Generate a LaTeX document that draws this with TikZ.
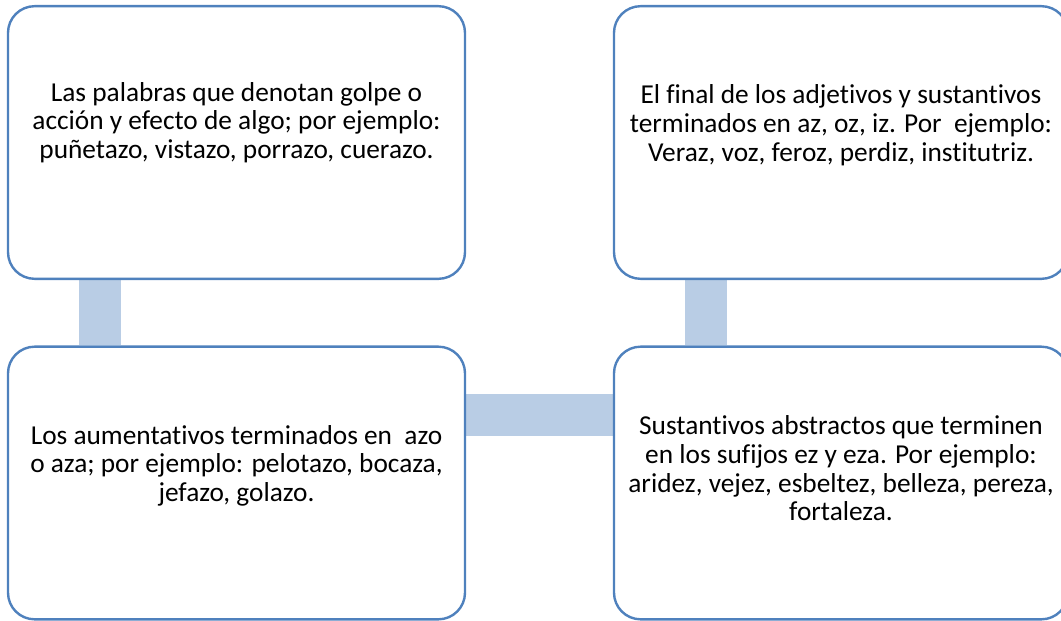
\documentclass[tikz,border=0pt]{standalone}
\usepackage{fontspec}
\setmainfont{Carlito}[Ligatures={NoCommon}]
\usetikzlibrary{backgrounds}
\definecolor{bordeazul}{RGB}{79,129,189}
\definecolor{barraazul}{RGB}{185,205,229}
\begin{document}
\begin{tikzpicture}[x=0.75pt,y=-0.75pt, line join=round,
		caja/.style={draw=bordeazul, line width=1.8pt, fill=white, rounded corners=20pt, inner sep=0pt, minimum height=204.5pt},
		cajaizq/.style={caja, minimum width=342.75pt},
		cajader/.style={caja, minimum width=340.5pt},
		texto/.style={align=center, inner sep=0pt, font=\fontsize{20.5}{21.5}\selectfont},
		enlace/.style={draw=barraazul, line width=31.5pt}]
		\useasboundingbox (0,0) rectangle (1061,621);
		% cajas
		\node[cajaizq] (c1) at (236.5,142.5) {};
		\node[cajader] (c2) at (841,142.5) {};
		\node[cajaizq] (c3) at (236.5,483) {};
		\node[cajader] (c4) at (841,483) {};
		% textos
		\node[texto] (t1) at ([yshift=15pt]c1.center) {Las palabras que denotan golpe o\\acción y efecto de algo; por ejemplo:\\puñetazo, vistazo, porrazo, cuerazo.};
		\node[texto] (t2) at ([yshift=13pt]c2.center) {El final de los adjetivos y sustantivos\\terminados en az, oz, iz. Por\ \ ejemplo:\\Veraz, voz, feroz, perdiz, institutriz.};
		\node[texto] (t3) at ([yshift=13pt]c3.center) {Los aumentativos terminados en\ \ azo\\o aza; por ejemplo: pelotazo, bocaza,\\jefazo, golazo.};
		\node[texto] (t4) at ([yshift=11pt]c4.center) {Sustantivos abstractos que terminen\\en los sufijos ez y eza. Por ejemplo:\\aridez, vejez, esbeltez, belleza, pereza,\\fortaleza.};
		% barras
		\begin{pgfonlayer}{background}
			\draw[enlace] ([xshift=69.75pt]c1.south west) -- ([xshift=69.75pt]c3.north west);
			\draw[enlace] ([xshift=69.75pt]c2.south west) -- ([xshift=69.75pt]c4.north west);
			\draw[enlace] ([yshift=51pt]c3.east) -- ([yshift=51pt]c4.west);
		\end{pgfonlayer}
	\end{tikzpicture}
\end{document}
